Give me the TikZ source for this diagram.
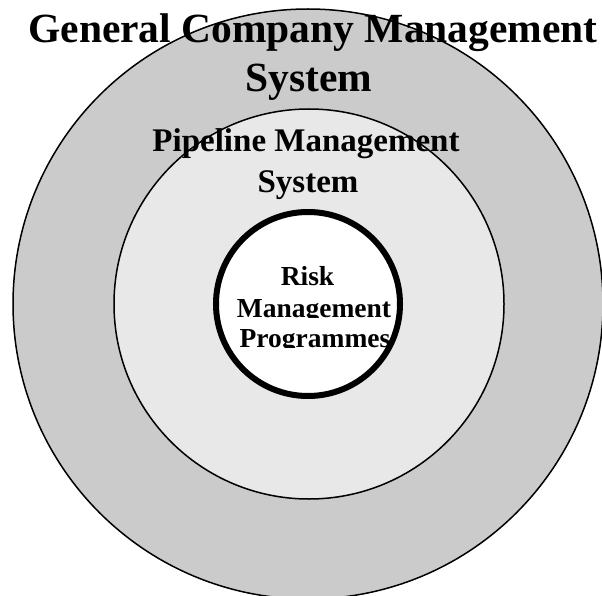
\documentclass[tikz,border=0pt]{standalone}
\usepackage{fontspec}
\setmainfont{Liberation Serif}
\definecolor{outergray}{RGB}{203,203,203}
\definecolor{middlegray}{RGB}{232,232,232}
\tikzset{
  ring/.style={draw=black, line width=1.5pt},
  innerring/.style={draw=black, line width=6pt, fill=white},
  lbl/.style={anchor=base, inner sep=0pt, font=\bfseries},
}
\begin{document}
\begin{tikzpicture}[x=1pt,y=-1pt]
\useasboundingbox (0,0) rectangle (602,596);
\begin{scope}
\clip (0,0) rectangle (602,596);
\node[ring, circle, fill=outergray, minimum size=590pt, inner sep=0pt] (outer) at (308,304) {};
\node[ring, circle, fill=middlegray, minimum size=390pt, inner sep=0pt] (middle) at (309,304) {};
\node[innerring, circle, minimum size=184pt, inner sep=0pt] (inner) at (308,304) {};
\end{scope}
% outer labels
\node[lbl, font=\bfseries\fontsize{41.5}{41.5}\selectfont] (g1) at (313,43) {General Company Management};
\node[lbl, font=\bfseries\fontsize{41.5}{41.5}\selectfont] (g2) at (309,92) {System};
% middle labels
\node[lbl, font=\bfseries\fontsize{33}{33}\selectfont] (p1) at (306,152) {Pipeline Management};
\node[lbl, font=\bfseries\fontsize{33}{33}\selectfont] (p2) at (308,193) {System};
% inner labels
\node[lbl, font=\bfseries\fontsize{27.5}{27.5}\selectfont] (r1) at (307.5,285) {Risk};
\begin{scope}
\clip (200,290) rectangle (420,317.5);
\node[lbl, font=\bfseries\fontsize{27.5}{27.5}\selectfont] (r2) at (314,317) {Management};
\end{scope}
\begin{scope}
\clip (200,320) rectangle (420,347);
\node[lbl, font=\bfseries\fontsize{27.5}{27.5}\selectfont] (r3) at (315,347) {Programmes};
\end{scope}
\end{tikzpicture}
\end{document}
